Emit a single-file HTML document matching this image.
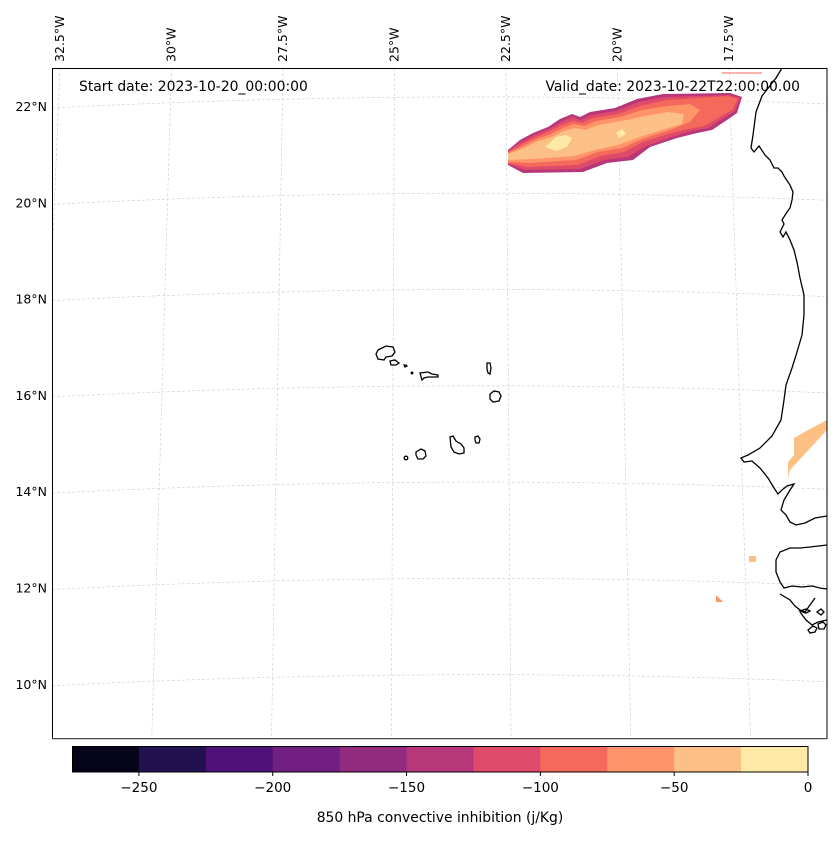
<!DOCTYPE html>
<html><head><meta charset="utf-8"><style>
body{margin:0;background:#fff;font-family:"Liberation Sans","DejaVu Sans",sans-serif}
svg text{font-family:"DejaVu Sans","Liberation Sans",sans-serif;fill:#000}
</style></head><body>
<svg id="c" width="837" height="836" xmlns="http://www.w3.org/2000/svg">
<defs><clipPath id="mc"><rect x="52" y="68" width="775" height="670"/></clipPath></defs>
<rect width="837" height="836" fill="#fff"/>
<g id="grid" clip-path="url(#mc)"></g>
<g clip-path="url(#mc)">
 <polygon fill="#b7377a" points="508,150 520,140 533,133 548,127 560,119 572,114 580,117 590,112 615,108 637,99 663,94 730,93 742,97 737,113 727,120 712,130 697,133 677,138 650,147 633,160 607,163 583,172 523,173 508,165"/>
 <polygon fill="#df4a6a" points="508,151 521,142 534,135 549,129 561,122 572,117 581,120 591,115 616,111 638,102 664,97 730,95 740,98 735,111 724,118 708,128 692,131 672,137 646,146 628,157 604,160 580,169 525,170 508,164"/>
 <polygon fill="#f4695c" points="508,152 522,144 536,137 550,131 562,125 573,121 582,123 593,118 618,114 640,106 666,100 728,96 738,99 732,110 720,117 704,126 688,129 668,134 643,142 624,152 600,156 578,165 527,167 508,163"/>
 <polygon fill="#fe9467" points="508,153 523,146 537,139 551,134 563,128 574,124 584,126 596,121 620,117 642,110 668,106 690,104 700,110 690,122 670,130 645,138 622,148 598,152 576,160 530,163 508,162"/>
 <polygon fill="#fdc084" points="508,154 524,148 538,141 552,137 564,131 575,128 586,130 598,125 622,121 645,116 668,112 684,114 682,124 662,130 640,137 618,145 595,150 574,156 532,159 508,160"/>
 <polygon fill="#fee9a6" points="545,147 556,137 566,135 572,138 567,147 556,151"/>
 <polygon fill="#fee9a6" points="616,133 622,129 626,134 619,138"/>
 <polygon fill="#fdc084" points="794,438 808,430 827,420 827,430 790,470 788,478 788,462 794,455"/>
 <rect x="749" y="556" width="7" height="6" fill="#fdc084"/>
 <polygon fill="#fe9467" points="716,595 723,602 716,602"/>
 <line x1="722" y1="73" x2="762" y2="73" stroke="#f4695c" stroke-width="1"/>
</g>
<g clip-path="url(#mc)" fill="none" stroke="#000" stroke-width="1.3">
 <polyline points="782,68 776,78 762,96 756,112 753,135 751,148 754,152 759,146 765,155 770,160 774,168 778,168 782,172 784,176 790,185 793,192 792,200 790,208 787,212 782,220 784,224 780,232 783,237 786,232 790,240 794,250 797,262 800,278 804,295 804,315 802,335 797,352 792,368 786,385 784,400 781,420 772,436 760,448 748,455 741,458 744,462 752,461 760,468 768,478 774,488 778,494 782,490 787,486 794,484 790,490 784,500 781,510 786,515 790,522 796,525 805,523 815,518 827,516"/>
 <polyline points="827,545 810,547 800,548 790,548 780,552 776,560 776,572 780,582 784,588 792,586 802,587 812,586 820,588 827,589"/>
 <polyline points="780,594 790,600 795,606 800,610 805,612 810,605 815,598"/>
 <polyline points="800,612 806,620 812,625 818,622 827,620"/>
 <path d="M800,611 l6,-2 4,2 -4,2z M808,630 l5,-4 4,2 -2,4 -5,1z M818,624 l5,-2 3,3 -2,4 -5,0z M817,612 l4,-3 3,3 -3,3z"/>
 <path d="M378,350 l8,-4 7,1 2,5 -3,4 -6,1 -2,3 -6,-1 -2,-5z"/>
 <path d="M390,361 l5,-1 4,3 -3,2 -5,0z"/>
 <path d="M404,365 l2,0 1,1 -2,1z"/>
 <circle cx="412" cy="373" r="0.8"/>
 <path d="M420,373 l8,-1 4,2 6,1 0,2 -6,0 -4,0 -4,1 -2,2z"/>
 <path d="M487,363 l3,0 1,5 -1,6 -2,-1 -1,-4z"/>
 <path d="M490,394 l4,-3 5,1 2,4 -2,5 -6,1 -3,-3z"/>
 <path d="M475,437 l3,-1 2,3 -1,4 -3,0 -1,-3z"/>
 <path d="M450,437 l3,-1 3,5 5,3 3,4 0,5 -5,1 -5,-2 -3,-5z"/>
 <path d="M416,452 l5,-3 4,2 1,5 -3,3 -5,0 -2,-4z"/>
 <circle cx="406" cy="458" r="1.8"/>
</g>
<rect x="52.5" y="68.5" width="774.5" height="670" fill="none" stroke="#000" stroke-width="1"/>
<line x1="52" y1="739" x2="827" y2="739" stroke="#999" stroke-width="1"/>
<text x="79" y="91" font-size="13.9">Start date: 2023-10-20_00:00:00</text>
<text x="800" y="91" font-size="13.9" text-anchor="end">Valid_date: 2023-10-22T22:00:00.00</text>
<g id="latlabels"></g>
<g id="lonlabels"></g>
<g id="cbar"></g>
<text x="440" y="822" font-size="13.9" text-anchor="middle">850 hPa convective inhibition (j/Kg)</text>
</svg>
<script>
const latTicks=[22,20,18,16,14,12,10];
const lonTicks=[32.5,30,27.5,25,22.5,20,17.5];
const cbarBounds=[-275,-250,-225,-200,-175,-150,-125,-100,-75,-50,-25,0];
const cbarColors=["#05041a","#221150","#4f127b","#711f81","#922b80","#b7377a","#df4a6a","#f4695c","#fe9467","#fdc084","#fee9a6"];
const cbarTicks=[-250,-200,-150,-100,-50,0];
const NS="http://www.w3.org/2000/svg";
function mk(t,a,p){const e=document.createElementNS(NS,t);for(const k in a)e.setAttribute(k,a[k]);p.appendChild(e);return e;}
const latY=v=>106+(22-v)*48.15;
const lonXTop=v=>60+(32.5-v)*44.6;
const lonXBot=v=>32+(32.5-v)*47.9;
const grid=document.getElementById('grid');
latTicks.forEach(v=>{const y=latY(v);
 const p=mk('path',{d:`M52,${y+2} Q440,${y-18} 827,${y-2}`,fill:'none',stroke:'#ccc','stroke-width':0.6,'stroke-dasharray':'3,2'},grid);
 
 
 const t=mk('text',{x:47,y:y+5,'font-size':12.5,'text-anchor':'end'},document.getElementById('latlabels'));
 t.textContent=v+'°N';
 
 });
lonTicks.forEach(v=>{
 const l=mk('line',{x1:lonXTop(v),y1:68,x2:lonXBot(v),y2:738,stroke:'#ccc','stroke-width':0.6,'stroke-dasharray':'3,2'},grid);
 
 
 const x=lonXTop(v)+4;
 const t=mk('text',{x:x,y:62,'font-size':12.5,transform:`rotate(-90 ${x} 62)`},document.getElementById('lonlabels'));
 t.textContent=v+'°W';
 
 });
const cb=document.getElementById('cbar');
const cx=v=>72+(v+275)/275*736;
cbarColors.forEach((c,i)=>{
 const r=mk('rect',{x:cx(cbarBounds[i]),y:746,width:cx(cbarBounds[i+1])-cx(cbarBounds[i])+0.5,height:26,fill:c},cb);
 
 });
mk('rect',{x:72.5,y:746.5,width:735.5,height:25.5,fill:'none',stroke:'#000','stroke-width':1},cb);
cbarTicks.forEach(v=>{const x=cx(v);
 mk('line',{x1:x,y1:772,x2:x,y2:776,stroke:'#000'},cb);
 const t=mk('text',{x:x,y:792,'font-size':13.5,'text-anchor':'middle'},cb);
 t.textContent=v<0?'\u2212'+Math.abs(v):String(v);
 
 });
</script>
</body></html>
